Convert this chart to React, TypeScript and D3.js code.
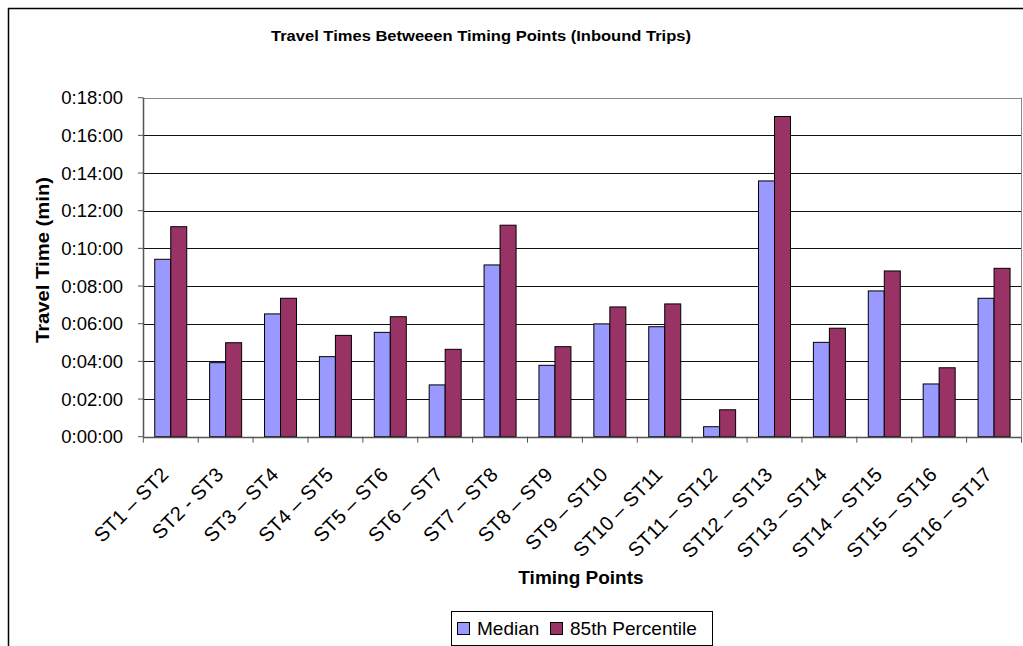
import * as d3 from 'd3'
import { useMemo } from 'react'

// travel times in minutes
const categories = [
  'ST1 – ST2', 'ST2 - ST3', 'ST3 – ST4', 'ST4 – ST5', 'ST5 – ST6', 'ST6 – ST7',
  'ST7 – ST8', 'ST8 – ST9', 'ST9 – ST10', 'ST10 – ST11', 'ST11 – ST12', 'ST12 – ST13',
  'ST13 – ST14', 'ST14 – ST15', 'ST15 – ST16', 'ST16 – ST17',
]
const median = [9.42, 3.93, 6.52, 4.25, 5.54, 2.75, 9.12, 3.79, 5.99, 5.84, 0.53, 13.58, 5.01, 7.74, 2.8, 7.35]
const pct85 = [11.15, 4.99, 7.35, 5.38, 6.37, 4.64, 11.23, 4.78, 6.89, 7.05, 1.43, 17.0, 5.76, 8.8, 3.66, 8.94]
const seriesNames = ['Median', '85th Percentile']
const yTicks = [0, 2, 4, 6, 8, 10, 12, 14, 16, 18]

const colors = ['#9999FF', '#993366']
const font = '"Liberation Sans", Arial, sans-serif'

const fmt = (m: number) => `0:${String(m).padStart(2, '0')}:00`

const App = () => {
  const width = 1023
  const height = 646
  const left = 143.3
  const right = 1021.5
  const top = 97.7
  const bottom = 436.7

  const x0 = useMemo(() => (
    d3.scaleBand().domain(categories).range([left, right]).paddingInner(0.417).paddingOuter(0.2085)
  ), [])
  const x1 = useMemo(() => (
    d3.scaleBand().domain(seriesNames).range([0, x0.bandwidth()])
  ), [x0])
  const y = useMemo(() => d3.scaleLinear().domain([0, 18]).range([bottom, top]), [])

  const step = x0.step()
  const values = [median, pct85]

  return (
    <svg width={width} height={height} style={{ position: 'absolute', left: 0, top: 0, background: '#fff' }} fontFamily={font}>
      <rect x={8.5} y={8.5} width={1100} height={700} fill="#fff" stroke="#000" strokeWidth={1.5} />

      <text x={481} y={41} textAnchor="middle" fontSize={15} fontWeight="bold" textLength={420} lengthAdjust="spacingAndGlyphs">
        Travel Times Betweeen Timing Points (Inbound Trips)
      </text>

      {/* gridlines */}
      {yTicks.map((t) => (
        <line key={t} x1={left} x2={right} y1={Math.round(y(t)) + 0.5} y2={Math.round(y(t)) + 0.5} stroke="#111" strokeWidth={1} />
      ))}
      <line x1={left} x2={right} y1={Math.round(top) + 0.5} y2={Math.round(top) + 0.5} stroke="#888" />
      <line x1={right} x2={right} y1={top} y2={bottom} stroke="#888" />

      {/* bars */}
      {categories.map((c, i) => (
        <g key={c} transform={`translate(${x0(c)}, 0)`}>
          {seriesNames.map((s, j) => (
            <rect
              key={s}
              x={x1(s)}
              y={y(values[j][i])}
              width={x1.bandwidth()}
              height={bottom - y(values[j][i])}
              fill={colors[j]}
              stroke="#000"
              strokeWidth={1}
            />
          ))}
        </g>
      ))}

      {/* y axis */}
      <line x1={Math.round(left) + 0.5} x2={Math.round(left) + 0.5} y1={top} y2={bottom} stroke="#555" strokeWidth={1.5} />
      {yTicks.map((t) => (
        <g key={t} transform={`translate(0, ${y(t)})`}>
          <line x1={138} x2={left} stroke="#555" />
          <text x={123} dy="0.35em" textAnchor="end" fontSize={18.5}>{fmt(t)}</text>
        </g>
      ))}

      {/* x axis */}
      <line x1={left} x2={right} y1={Math.round(bottom) + 0.5} y2={Math.round(bottom) + 0.5} stroke="#555" strokeWidth={1.5} />
      {d3.range(categories.length + 1).map((i) => (
        <line key={i} x1={left + i * step} x2={left + i * step} y1={bottom} y2={bottom + 6} stroke="#555" />
      ))}
      {categories.map((c) => (
        <text
          key={c}
          transform={`translate(${(x0(c) ?? 0) + x0.bandwidth() / 2 - 1}, 476) rotate(-45)`}
          textAnchor="end"
          fontSize={20}
        >
          {c}
        </text>
      ))}

      <text transform="translate(48.5, 260) rotate(-90)" textAnchor="middle" fontSize={19} fontWeight="bold" textLength={166} lengthAdjust="spacingAndGlyphs">
        Travel Time (min)
      </text>
      <text x={581} y={584} textAnchor="middle" fontSize={19} fontWeight="bold">Timing Points</text>

      {/* legend */}
      <rect x={451.5} y={611.5} width={261} height={34} fill="#fff" stroke="#000" />
      {seriesNames.map((s, j) => {
        const lx = [457, 550][j]
        return (
          <g key={s}>
            <rect x={lx + 0.5} y={622.5} width={12} height={12} fill={colors[j]} stroke="#000" />
            <text x={lx + 20} y={635} fontSize={19}>{s}</text>
          </g>
        )
      })}
    </svg>
  )
}

export default App
